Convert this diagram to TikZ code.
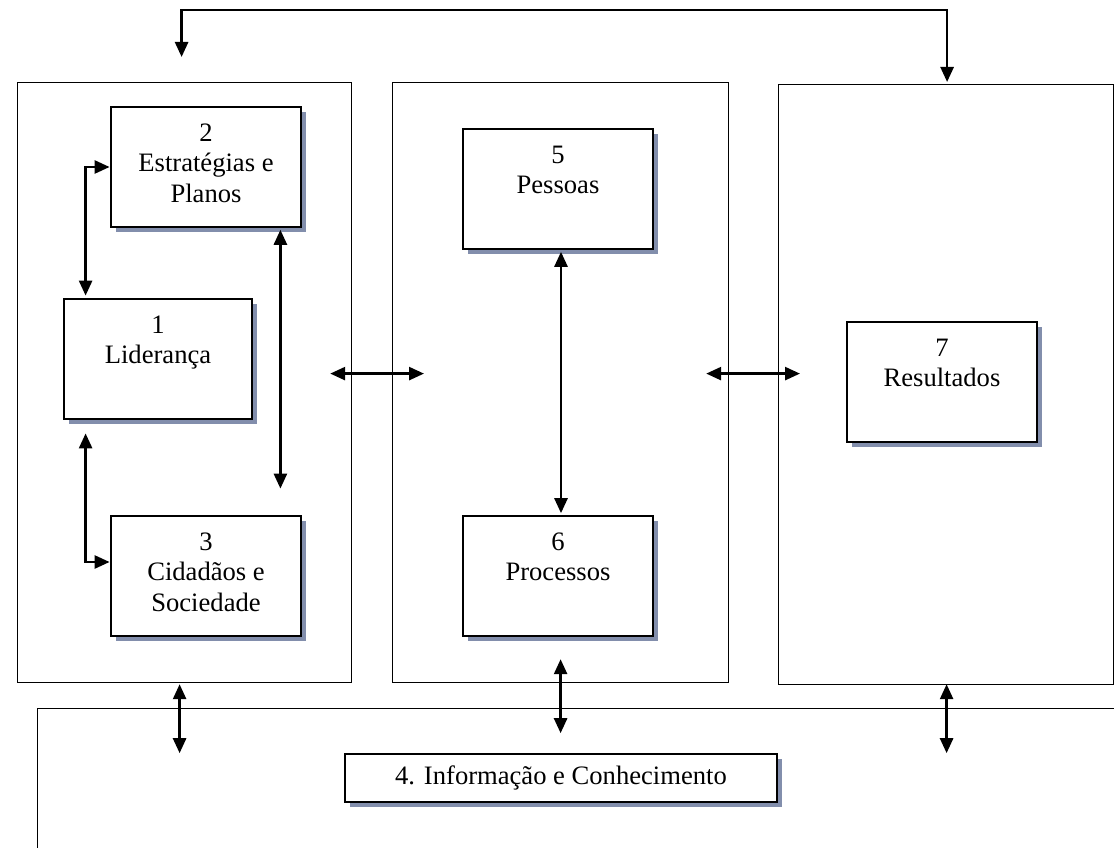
\documentclass[tikz,border=0pt]{standalone}
\usepackage{fontspec}
\setmainfont{Liberation Serif}
\usetikzlibrary{arrows.meta,shadows,calc}
\definecolor{shadowc}{RGB}{130,142,172}
\begin{document}
\begin{tikzpicture}[x=1pt,y=-1pt,
  panel/.style={draw, line width=1.2pt, fill=white, inner sep=0pt, anchor=north west},
  unit/.style={draw, line width=2.8pt, fill=white, inner sep=0pt,
    minimum width=190pt, minimum height=120pt,
    general shadow={fill=shadowc, shadow xshift=5pt, shadow yshift=-5pt}},
  lbl/.style={anchor=north, inner sep=0pt, align=center,
    font=\fontsize{26.6pt}{30.5pt}\selectfont},
  tipstyle/.style={line width=2.6pt},
  dbl/.style={tipstyle, {Triangle[length=15pt,width=13pt]}-{Triangle[length=15pt,width=13pt]}},
]
\useasboundingbox (0,0) rectangle (1114,848);
\clip (0,0) rectangle (1114,848);

% the three upper panels and the lower band
\node[panel, minimum width=334pt, minimum height=600pt] (L) at (17,82) {};
\node[panel, minimum width=336pt, minimum height=600pt] (M) at (392,82) {};
\node[panel, minimum width=335pt, minimum height=600pt] (R) at (778,84) {};
\node[panel, minimum width=1100pt, minimum height=200pt] (B) at (37,708) {};

% criteria boxes
\node[unit] (b2) at (206,167) {};
\node[unit, minimum width=188pt] (b1) at (158,359) {};
\node[unit] (b3) at (206,576) {};
\node[unit] (b5) at (558,189) {};
\node[unit] (b6) at (558,576) {};
\node[unit] (b7) at (942,382) {};
\node[unit, minimum width=432pt, minimum height=48pt,
  font=\fontsize{26.6pt}{30.5pt}\selectfont] (b4) at (561,778) {4. Informação e Conhecimento};

\node[lbl] (t2) at ($(b2.north)+(0,18)$) {2\\Estratégias e\\Planos};
\node[lbl] (t1) at ($(b1.north)+(0,18)$) {1\\Liderança};
\node[lbl] (t3) at ($(b3.north)+(0,18)$) {3\\Cidadãos e\\Sociedade};
\node[lbl] (t5) at ($(b5.north)+(0,18)$) {5\\Pessoas};
\node[lbl] (t6) at ($(b6.north)+(0,18)$) {6\\Processos};
\node[lbl] (t7) at ($(b7.north)+(0,18)$) {7\\Resultados};

% links inside the left panel
\draw[dbl] (b2.west) -| ($(b1.north west)+(23,-2)$);
\draw[dbl] ($(b1.south west)+(23,13)$) |- ($(b3.west)+(0,-14)$);
\draw[dbl] ($(b2.south east)+(-22,1.4)$) -- ($(b3.north east)+(-22,-26)$);

% link inside the middle panel
\draw[dbl] ($(b5.south)+(3,1.4)$) -- ($(b6.north)+(3,-1.4)$);

% links between panels
\draw[dbl] ($(L.east)+(-22,-9)$) -- ($(M.west)+(32,-9)$);
\draw[dbl] ($(M.east)+(-23,-9)$) -- ($(R.west)+(22,-11)$);
\draw[dbl] ($(L.north)+(-3,-25)$) |- ($(R.north)+(1,-74)$) -- ($(R.north)+(1,-2)$);

% links down to the information band
\draw[dbl] ($(L.south)+(-5,1)$) -- ($(L.south)+(-5,70)$);
\draw[dbl] ($(M.south)+(0,-24)$) -- ($(M.south)+(0,50)$);
\draw[dbl] ($(R.south)+(0.5,-1)$) -- ($(R.south)+(0.5,68)$);
\end{tikzpicture}
\end{document}
